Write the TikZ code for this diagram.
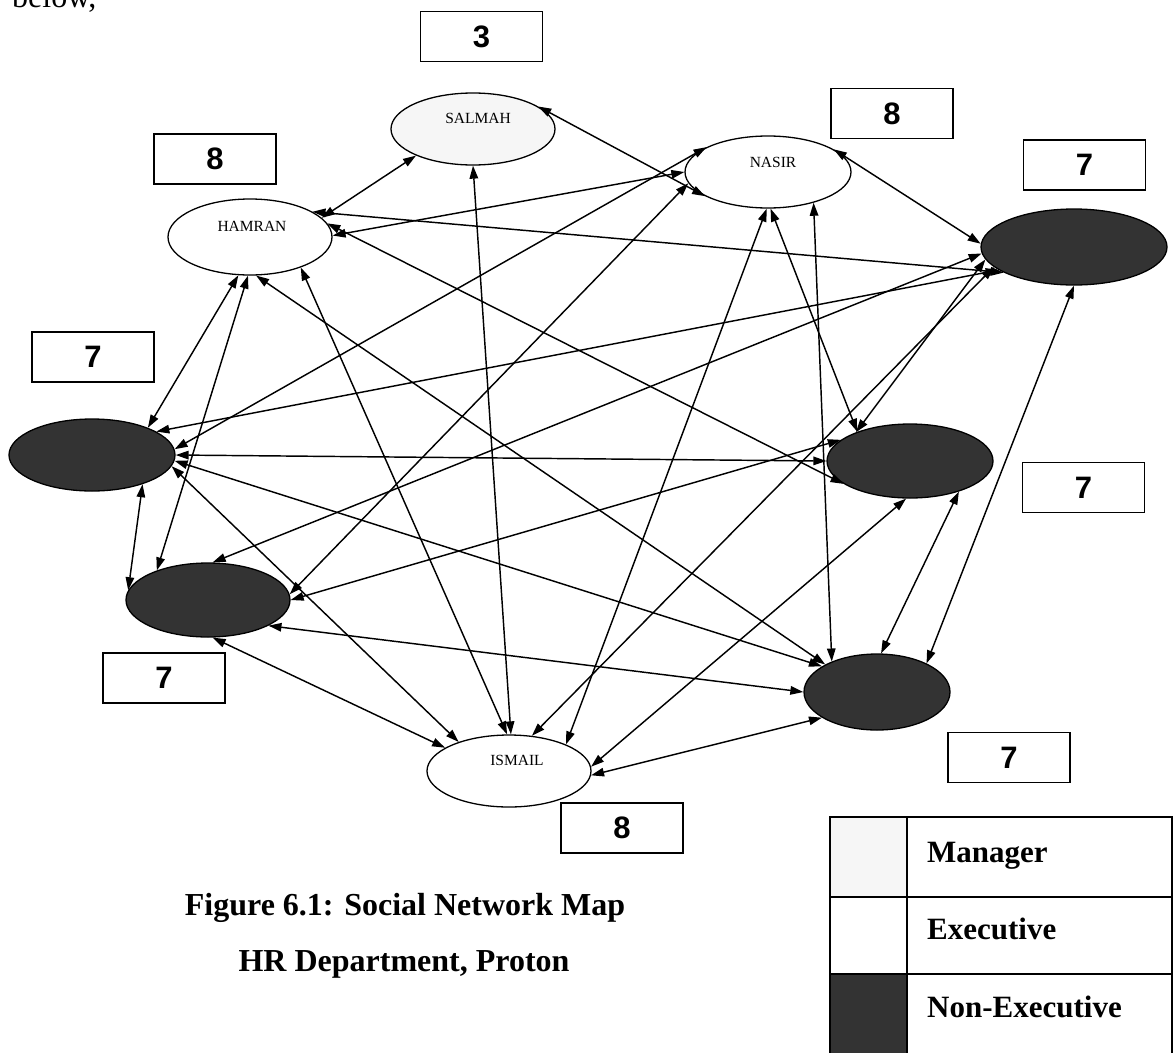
\documentclass[tikz,border=0pt]{standalone}
\usepackage{fontspec}
\setmainfont{Liberation Serif}
\newfontfamily\numfont{Liberation Sans}
\usetikzlibrary{shapes.geometric,arrows.meta}
\colorlet{mgrfill}{gray!7}
\colorlet{nonexfill}{black!80}
\tikzset{
  person/.style={draw, line width=1.3pt, ellipse, inner sep=0pt},
  mgr/.style={person, fill=mgrfill},
  exe/.style={person, fill=white},
  nonex/.style={person, fill=nonexfill},
  persontext/.style={font=\fontsize{15.5}{18}\selectfont, inner sep=0pt},
  countbox/.style={draw, line width=1.8pt, minimum width=122pt, minimum height=50pt,
    inner sep=0pt, font=\numfont\bfseries\fontsize{31}{34}\selectfont},
  link/.style={line width=1.45pt, {Triangle[length=13pt,width=8.5pt]}-{Triangle[length=13pt,width=8.5pt]}},
  captext/.style={font=\bfseries\fontsize{32}{38}\selectfont, inner sep=0pt},
  legtext/.style={font=\bfseries\fontsize{31}{36}\selectfont, inner sep=0pt, anchor=base west},
  pagetext/.style={font=\fontsize{32}{38}\selectfont, inner sep=0pt, anchor=base west},
}
\begin{document}
\begin{tikzpicture}[x=1pt,y=-1pt]
\useasboundingbox[fill=white] (0,0) rectangle (1174,1052);

% partial line of page text
\node[pagetext] (below) at (12,8) {below,};

% people
\node[mgr, minimum width=164pt, minimum height=72pt] (S) at (473,129) {};
\node[exe, minimum width=166pt, minimum height=72pt] (N) at (768,172) {};
\node[exe, minimum width=164pt, minimum height=76pt] (H) at (250,237) {};
\node[nonex, minimum width=186pt, minimum height=76pt] (R1) at (1074,247) {};
\node[nonex, minimum width=166pt, minimum height=72pt] (L1) at (92,455) {};
\node[nonex, minimum width=166pt, minimum height=74pt] (R2) at (910,461) {};
\node[nonex, minimum width=164pt, minimum height=74pt] (L2) at (208,600) {};
\node[nonex, minimum width=146pt, minimum height=76pt] (R3) at (877,692) {};
\node[exe, minimum width=164pt, minimum height=72pt] (I) at (509,771) {};

\node[persontext] (Stext) at (478,118) {SALMAH};
\node[persontext] (Ntext) at (773,162) {NASIR};
\node[persontext] (Htext) at (252,226) {HAMRAN};
\node[persontext] (Itext) at (517,760) {ISMAIL};

% count boxes
\node[countbox] (cS) at (481.5,36.5) {3};
\node[countbox] (cH) at (215,159) {8};
\node[countbox] (cN) at (892,113.5) {8};
\node[countbox] (cR1) at (1084.5,165) {7};
\node[countbox] (cL1) at (93,357) {7};
\node[countbox] (cR2) at (1083.5,487.5) {7};
\node[countbox] (cL2) at (164,678) {7};
\node[countbox] (cR3) at (1009,757.5) {7};
\node[countbox] (cI) at (622,828) {8};

% links
\draw[link] (H.15) -- (S.-155);
\draw[link] (H.22) -- (R1.-160);
\draw[link] (H.1) -- (N.180);
\draw[link] (H.10) -- (R2.-161);
\draw[link] (H.-81) -- (R3.152);
\draw[link] (H.-107) -- (L1.26);
\draw[link] (H.-93) -- (L2.150);
\draw[link] (H.-31) -- (I.93);
\draw[link] (S.19) -- (N.-159);
\draw[link] (S.-90) -- (I.87);
\draw[link] (N.158) -- (L1.4);
\draw[link] (N.-172) -- (L2.4);
\draw[link] (N.19) -- (R1.178);
\draw[link] (N.-92) -- (I.25);
\draw[link] (N.-86) -- (R2.151);
\draw[link] (N.-34) -- (R3.146);
\draw[link] (R1.-163) -- (L1.20);
\draw[link] (R1.-176) -- (L2.83);
\draw[link] (R1.-172) -- (R2.152);
\draw[link] (R1.-90) -- (R3.30);
\draw[link] (R1.-166) -- (I.57);
\draw[link] (L1.-30) -- (L2.173);
\draw[link] (L1.0) -- (R2.180);
\draw[link] (L1.-4) -- (R3.155);
\draw[link] (L1.-8) -- (I.150);
\draw[link] (L2.0) -- (R2.163);
\draw[link] (L2.-23) -- (R3.180);
\draw[link] (L2.-83) -- (I.160);
\draw[link] (R2.-32) -- (R3.84);
\draw[link] (R2.-96) -- (I.3);
\draw[link] (R3.-155) -- (I.-3);

% caption
\node[captext, anchor=base] (cap1) at (405,915) {Figure 6.1: Social Network Map};
\node[captext, anchor=base] (cap2) at (404,971) {HR Department, Proton};

% legend
\fill[mgrfill] (830,817) rectangle (907,897);
\fill[nonexfill] (830,974) rectangle (907,1070);
\draw[line width=2pt] (830,817) rectangle (1172,1070);
\draw[line width=2pt] (907,817) -- (907,1070);
\draw[line width=2pt] (830,897) -- (1172,897);
\draw[line width=2pt] (830,974) -- (1172,974);
\node[legtext] (lgM) at (927,862) {Manager};
\node[legtext] (lgE) at (927,939) {Executive};
\node[legtext] (lgN) at (927,1017) {Non-Executive};
\end{tikzpicture}
\end{document}
